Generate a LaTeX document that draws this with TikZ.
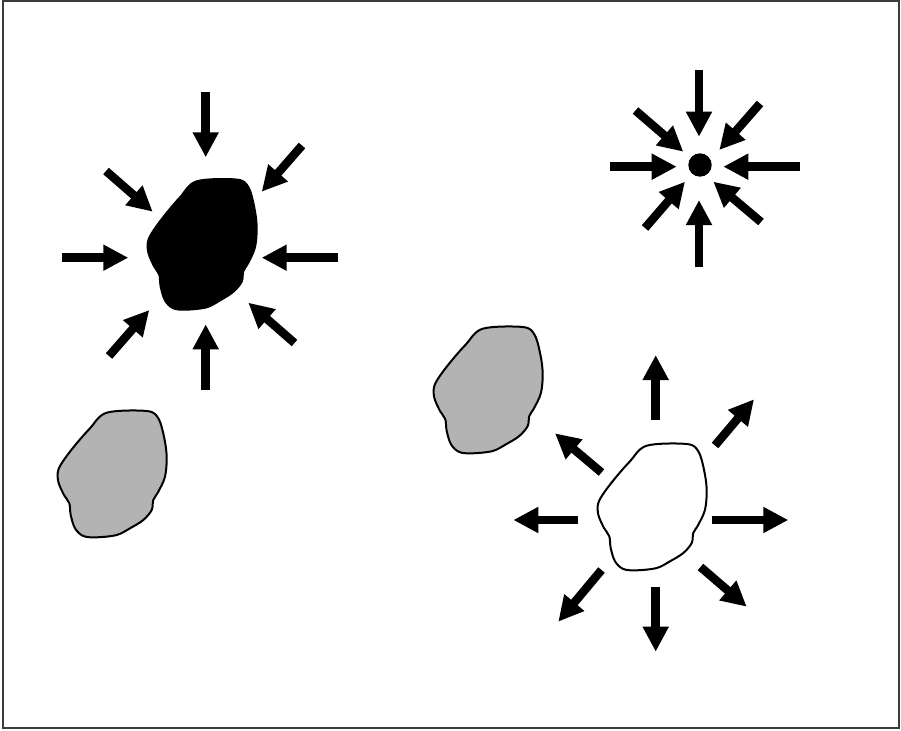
\documentclass[tikz,border=0pt]{standalone}
\usetikzlibrary{arrows.meta}
\definecolor{blobgray}{RGB}{179,179,179}
\definecolor{framegray}{RGB}{60,60,60}
\tikzset{
  fat/.style={line width=8.5pt, line cap=butt, -{Triangle[width=24.5pt,length=25pt]}},
  blob/.pic={
    \path[pic actions] plot[smooth cycle, tension=0.55] coordinates {
      (49.7,3.7) (89.7,2) (101.3,9.3) (107,27.7) (109.7,47.7) (108,67.7)
      (101.3,82.7) (96.3,91) (94.7,101) (86.3,111) (73,119.3) (59.7,126)
      (39.7,128.3) (26.3,127) (18,119.3) (13.7,106) (12.3,94.3) (7,86)
      (1.3,72.7) (1.3,61) (8,49.3) (19.7,34.3) (33,19.3)};
  },
  blobstroke/.style={draw=black, line width=2pt, line join=round},
}
\begin{document}
\begin{tikzpicture}[x=1pt, y=-1pt]
\useasboundingbox (0,0) rectangle (901,730);
\fill[white] (0,0) rectangle (901,730);
\draw[framegray, line width=1.8pt] (2.7,1.2) rectangle (899.3,728.3);

% blobs
\pic[fill=blobgray, blobstroke] at (57,409) {blob};
\pic[fill=blobgray, blobstroke] at (433,325) {blob};
\pic[fill=black, blobstroke, yscale=1.03] at (147,177.5) {blob};
\pic[fill=white, blobstroke] at (597,442) {blob};

% inward arrows round the black blob
\draw[fat] (205.7,91.7) -- (205.7,157.3);
\draw[fat] (205.7,390) -- (205.7,324.3);
\draw[fat] (61.7,257.7) -- (128.3,257.7);
\draw[fat] (338.3,257.7) -- (261.7,257.7);
\draw[fat] (106,171) -- (152.7,211.7);
\draw[fat] (302,145.5) -- (261.7,191.7);
\draw[fat] (109,356) -- (149.3,310);
\draw[fat] (294.5,343) -- (248.3,302.7);

% point with inward arrows
\fill[black] (700,165) circle (11.7);
\draw[fat] (699,70) -- (699,136.7);
\draw[fat] (699,266.7) -- (699,200);
\draw[fat] (610,166.7) -- (676.7,166.7);
\draw[fat] (800,166.7) -- (723.3,166.7);
\draw[fat] (635.5,110.5) -- (683.3,151.7);
\draw[fat] (760,103.5) -- (719.3,150);
\draw[fat] (645,228) -- (685,181.7);
\draw[fat] (761,222) -- (713.3,181.7);

% outward arrows round the white blob
\draw[fat] (655.7,420) -- (655.7,355);
\draw[fat] (655.7,586.7) -- (655.7,651.7);
\draw[fat] (578.3,520) -- (513.3,520);
\draw[fat] (711.7,520) -- (788.3,520);
\draw[fat] (601.5,472.5) -- (555,433.3);
\draw[fat] (715,445.5) -- (754,399.3);
\draw[fat] (601.5,570) -- (558.3,621.7);
\draw[fat] (700.5,567) -- (746.7,606.7);
\end{tikzpicture}
\end{document}
